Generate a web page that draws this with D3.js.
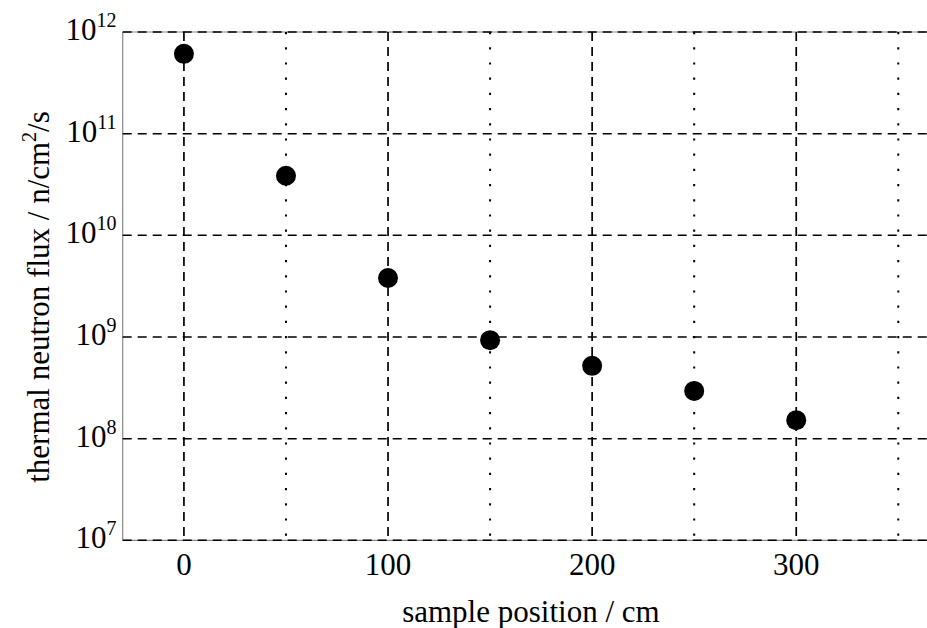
<!DOCTYPE html>
<html>
<head>
<meta charset="utf-8">
<script src="https://cdn.jsdelivr.net/npm/d3@7"></script>
<style>
  html, body { margin: 0; padding: 0; background: #fff; }
  svg { display: block; font-family: "Liberation Serif", "Times New Roman", serif; }
</style>
</head>
<body>
<svg id="chart" width="927" height="628"></svg>
<script>
// Thermal neutron flux measured along the sample positions
const positions = [0, 50, 100, 150, 200, 250, 300];            // cm
const fluxValues = [6.1e11, 3.85e10, 3.8e9, 9.3e8, 5.2e8, 2.95e8, 1.52e8]; // n/cm^2/s

const majorXTicks = [0, 100, 200, 300];
const minorXTicks = [50, 150, 250, 350];
const yTickExponents = [7, 8, 9, 10, 11, 12];

const xLabel = "sample position / cm";
const yLabelMain = "thermal neutron flux / n/cm";
const yLabelSup = "2";
const yLabelTail = "/s";

const svg = d3.select("#chart");

const plotLeft = 122.7, plotTop = 32, plotBottom = 540.3;
const x = d3.scaleLinear().domain([-30, 370]).range([plotLeft, plotLeft + 400 * 2.041]);
const y = d3.scaleLog().domain([1e7, 1e12]).range([plotBottom, plotTop]);

const xMin = x.range()[0], xMax = x.range()[1];

// Frame: solid grey axis lines (left, bottom, top)
const frame = svg.append("g").attr("stroke", "#8a8a8a").attr("stroke-width", 1.2);
frame.append("line").attr("x1", xMin).attr("x2", xMin).attr("y1", plotTop).attr("y2", plotBottom);
frame.append("line").attr("x1", xMin).attr("x2", xMax).attr("y1", plotBottom).attr("y2", plotBottom);
frame.append("line").attr("x1", xMin).attr("x2", xMax).attr("y1", plotTop).attr("y2", plotTop);

// Horizontal dashed grid at every decade
const grid = svg.append("g").attr("stroke", "#000").attr("fill", "none");
grid.selectAll("line.hgrid")
  .data(yTickExponents.map(e => Math.pow(10, e)))
  .join("line")
  .attr("class", "hgrid")
  .attr("x1", xMin).attr("x2", xMax)
  .attr("y1", d => y(d)).attr("y2", d => y(d))
  .attr("stroke-width", 1.5)
  .attr("stroke-dasharray", "9,6");

// Vertical dashed grid at labelled positions
grid.selectAll("line.vmajor")
  .data(majorXTicks)
  .join("line")
  .attr("class", "vmajor")
  .attr("x1", d => x(d)).attr("x2", d => x(d))
  .attr("y1", plotTop).attr("y2", plotBottom)
  .attr("stroke-width", 1.7)
  .attr("stroke-dasharray", "9,6");

// Vertical dotted grid halfway between labelled positions
grid.selectAll("line.vminor")
  .data(minorXTicks)
  .join("line")
  .attr("class", "vminor")
  .attr("x1", d => x(d)).attr("x2", d => x(d))
  .attr("y1", plotTop).attr("y2", plotBottom)
  .attr("stroke-width", 2)
  .attr("stroke-dasharray", "2.2,13");

// X tick labels
svg.append("g")
  .selectAll("text")
  .data(majorXTicks)
  .join("text")
  .attr("x", d => x(d))
  .attr("y", 575)
  .attr("text-anchor", "middle")
  .attr("font-size", 31)
  .attr("fill", "#000")
  .text(d => d);

// Y tick labels as powers of ten
const yt = svg.append("g")
  .selectAll("text")
  .data(yTickExponents)
  .join("text")
  .attr("x", 116.5)
  .attr("y", e => y(Math.pow(10, e)) + 8)
  .attr("text-anchor", "end")
  .attr("font-size", 31)
  .attr("fill", "#000");
yt.append("tspan").text("10");
yt.append("tspan").attr("dy", -13).attr("font-size", 20).text(e => e);

// Data points
svg.append("g")
  .selectAll("circle")
  .data(positions.map((p, i) => ({ p, v: fluxValues[i] })))
  .join("circle")
  .attr("cx", d => x(d.p))
  .attr("cy", d => y(d.v))
  .attr("r", 10)
  .attr("fill", "#000");

// Axis titles
svg.append("text")
  .attr("x", x(170))
  .attr("y", 621.5)
  .attr("text-anchor", "middle")
  .attr("font-size", 31)
  .attr("fill", "#000")
  .text(xLabel);

const yl = svg.append("text")
  .attr("transform", "translate(49,297) rotate(-90)")
  .attr("text-anchor", "middle")
  .attr("font-size", 31)
  .attr("fill", "#000");
yl.append("tspan").text(yLabelMain);
yl.append("tspan").attr("dy", -13).attr("font-size", 20).text(yLabelSup);
yl.append("tspan").attr("dy", 13).text(yLabelTail);
</script>
</body>
</html>
